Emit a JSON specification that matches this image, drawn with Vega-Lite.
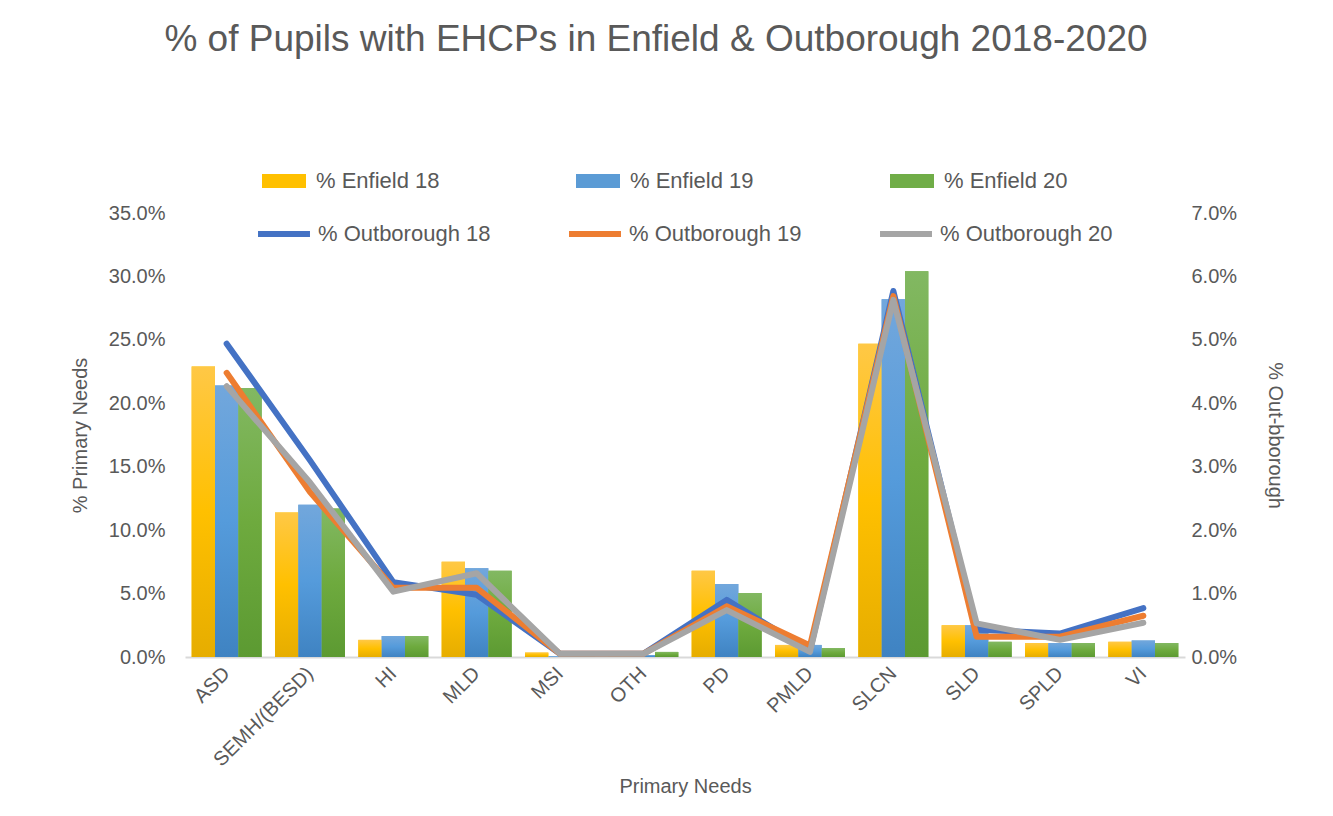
{
  "$schema": "https://vega.github.io/schema/vega-lite/v6.json",
  "width": 1000,
  "height": 444,
  "autosize": {"type": "none"},
  "padding": {"left": 185, "top": 213, "right": 148, "bottom": 159},
  "background": "white",
  "config": {
    "font": "Liberation Sans",
    "view": {"stroke": null},
    "axis": {"labelColor": "#595959", "titleColor": "#595959", "labelFont": "Liberation Sans", "titleFont": "Liberation Sans", "titleFontWeight": "normal", "grid": false, "ticks": false, "domain": false}
  },
  "title": {
    "text": "% of Pupils with EHCPs in Enfield & Outborough 2018-2020",
    "fontSize": 37,
    "fontWeight": "normal",
    "color": "#595959",
    "font": "Liberation Sans",
    "anchor": "middle",
    "dx": -29,
    "offset": 100
  },
  "datasets": {
    "bars": [
      {"need": "ASD", "series": "% Enfield 18", "pct": 0.229},
      {"need": "ASD", "series": "% Enfield 19", "pct": 0.214},
      {"need": "ASD", "series": "% Enfield 20", "pct": 0.212},
      {"need": "SEMH/(BESD)", "series": "% Enfield 18", "pct": 0.114},
      {"need": "SEMH/(BESD)", "series": "% Enfield 19", "pct": 0.120},
      {"need": "SEMH/(BESD)", "series": "% Enfield 20", "pct": 0.117},
      {"need": "HI", "series": "% Enfield 18", "pct": 0.0135},
      {"need": "HI", "series": "% Enfield 19", "pct": 0.0165},
      {"need": "HI", "series": "% Enfield 20", "pct": 0.0165},
      {"need": "MLD", "series": "% Enfield 18", "pct": 0.075},
      {"need": "MLD", "series": "% Enfield 19", "pct": 0.070},
      {"need": "MLD", "series": "% Enfield 20", "pct": 0.068},
      {"need": "MSI", "series": "% Enfield 18", "pct": 0.0035},
      {"need": "MSI", "series": "% Enfield 19", "pct": 0.0005},
      {"need": "MSI", "series": "% Enfield 20", "pct": 0.0005},
      {"need": "OTH", "series": "% Enfield 18", "pct": 0.001},
      {"need": "OTH", "series": "% Enfield 19", "pct": 0.0015},
      {"need": "OTH", "series": "% Enfield 20", "pct": 0.004},
      {"need": "PD", "series": "% Enfield 18", "pct": 0.068},
      {"need": "PD", "series": "% Enfield 19", "pct": 0.0575},
      {"need": "PD", "series": "% Enfield 20", "pct": 0.0505},
      {"need": "PMLD", "series": "% Enfield 18", "pct": 0.0095},
      {"need": "PMLD", "series": "% Enfield 19", "pct": 0.0095},
      {"need": "PMLD", "series": "% Enfield 20", "pct": 0.007},
      {"need": "SLCN", "series": "% Enfield 18", "pct": 0.247},
      {"need": "SLCN", "series": "% Enfield 19", "pct": 0.282},
      {"need": "SLCN", "series": "% Enfield 20", "pct": 0.304},
      {"need": "SLD", "series": "% Enfield 18", "pct": 0.025},
      {"need": "SLD", "series": "% Enfield 19", "pct": 0.025},
      {"need": "SLD", "series": "% Enfield 20", "pct": 0.012},
      {"need": "SPLD", "series": "% Enfield 18", "pct": 0.011},
      {"need": "SPLD", "series": "% Enfield 19", "pct": 0.011},
      {"need": "SPLD", "series": "% Enfield 20", "pct": 0.011},
      {"need": "VI", "series": "% Enfield 18", "pct": 0.012},
      {"need": "VI", "series": "% Enfield 19", "pct": 0.013},
      {"need": "VI", "series": "% Enfield 20", "pct": 0.011}
    ],
    "lines": [
      {"need": "ASD", "series": "% Outborough 18", "pct": 0.0494},
      {"need": "SEMH/(BESD)", "series": "% Outborough 18", "pct": 0.031},
      {"need": "HI", "series": "% Outborough 18", "pct": 0.0118},
      {"need": "MLD", "series": "% Outborough 18", "pct": 0.0098},
      {"need": "MSI", "series": "% Outborough 18", "pct": 0.0005},
      {"need": "OTH", "series": "% Outborough 18", "pct": 0.0005},
      {"need": "PD", "series": "% Outborough 18", "pct": 0.009},
      {"need": "PMLD", "series": "% Outborough 18", "pct": 0.001},
      {"need": "SLCN", "series": "% Outborough 18", "pct": 0.0577},
      {"need": "SLD", "series": "% Outborough 18", "pct": 0.0043},
      {"need": "SPLD", "series": "% Outborough 18", "pct": 0.0037},
      {"need": "VI", "series": "% Outborough 18", "pct": 0.0077},
      {"need": "ASD", "series": "% Outborough 19", "pct": 0.0448},
      {"need": "SEMH/(BESD)", "series": "% Outborough 19", "pct": 0.026},
      {"need": "HI", "series": "% Outborough 19", "pct": 0.0109},
      {"need": "MLD", "series": "% Outborough 19", "pct": 0.0109},
      {"need": "MSI", "series": "% Outborough 19", "pct": 0.0005},
      {"need": "OTH", "series": "% Outborough 19", "pct": 0.0005},
      {"need": "PD", "series": "% Outborough 19", "pct": 0.008},
      {"need": "PMLD", "series": "% Outborough 19", "pct": 0.0018},
      {"need": "SLCN", "series": "% Outborough 19", "pct": 0.0569},
      {"need": "SLD", "series": "% Outborough 19", "pct": 0.0032},
      {"need": "SPLD", "series": "% Outborough 19", "pct": 0.0032},
      {"need": "VI", "series": "% Outborough 19", "pct": 0.0065},
      {"need": "ASD", "series": "% Outborough 20", "pct": 0.0427},
      {"need": "SEMH/(BESD)", "series": "% Outborough 20", "pct": 0.0275},
      {"need": "HI", "series": "% Outborough 20", "pct": 0.0103},
      {"need": "MLD", "series": "% Outborough 20", "pct": 0.0132},
      {"need": "MSI", "series": "% Outborough 20", "pct": 0.0005},
      {"need": "OTH", "series": "% Outborough 20", "pct": 0.0005},
      {"need": "PD", "series": "% Outborough 20", "pct": 0.0074},
      {"need": "PMLD", "series": "% Outborough 20", "pct": 0.0008},
      {"need": "SLCN", "series": "% Outborough 20", "pct": 0.0563},
      {"need": "SLD", "series": "% Outborough 20", "pct": 0.0053},
      {"need": "SPLD", "series": "% Outborough 20", "pct": 0.0027},
      {"need": "VI", "series": "% Outborough 20", "pct": 0.0054}
    ]
  },
  "encoding": {
    "x": {
      "field": "need",
      "type": "nominal",
      "sort": ["ASD", "SEMH/(BESD)", "HI", "MLD", "MSI", "OTH", "PD", "PMLD", "SLCN", "SLD", "SPLD", "VI"],
      "scale": {"paddingInner": 0.16, "paddingOuter": 0.08},
      "axis": {
        "title": "Primary Needs",
        "titleFontSize": 20,
        "titlePadding": 7,
        "labelFontSize": 20,
        "labelAngle": -45,
        "labelPadding": 6,
        "labelOffset": -7,
        "domain": true,
        "domainColor": "#d9d9d9",
        "domainWidth": 2
      }
    }
  },
  "layer": [
    {
      "data": {"name": "bars"},
      "encoding": {
        "xOffset": {"field": "series", "type": "nominal", "scale": {"domain": ["% Enfield 18", "% Enfield 19", "% Enfield 20"], "paddingInner": 0, "paddingOuter": 0}},
        "y": {
          "field": "pct",
          "type": "quantitative",
          "scale": {"domain": [0, 0.35]},
          "axis": {
            "title": "% Primary Needs",
            "titleFontSize": 20,
            "labelFontSize": 20,
            "format": ".1%",
            "values": [0, 0.05, 0.1, 0.15, 0.2, 0.25, 0.3, 0.35],
            "labelPadding": 20,
            "titlePadding": 18
          }
        }
      },
      "layer": [
        {
          "mark": {"type": "bar"},
          "encoding": {
            "color": {
              "field": "series",
              "type": "nominal",
              "scale": {"domain": ["% Enfield 18", "% Enfield 19", "% Enfield 20"], "range": ["#FFC000", "#5B9BD5", "#70AD47"]},
              "legend": {
                "title": null,
                "orient": "none",
                "legendX": 77,
                "legendY": -54,
                "direction": "horizontal",
                "columns": 3,
                "columnPadding": 136,
                "symbolType": "M-1,-0.32H1V0.32H-1Z",
                "symbolSize": 1936,
                "symbolStrokeWidth": 0,
                "labelFontSize": 22,
                "labelColor": "#595959",
                "labelOffset": 10,
                "labelLimit": 400,
                "labelFont": "Liberation Sans"
              }
            }
          }
        },
        {
          "transform": [{"filter": "datum.series == '% Enfield 18'"}],
          "mark": {"type": "bar", "color": {"gradient": "linear", "x1": 0, "y1": 0, "x2": 0, "y2": 1, "stops": [{"offset": 0, "color": "#FFC846"}, {"offset": 0.5, "color": "#FFC000"}, {"offset": 1, "color": "#E6AD00"}]}}
        },
        {
          "transform": [{"filter": "datum.series == '% Enfield 19'"}],
          "mark": {"type": "bar", "color": {"gradient": "linear", "x1": 0, "y1": 0, "x2": 0, "y2": 1, "stops": [{"offset": 0, "color": "#72A7DC"}, {"offset": 0.5, "color": "#559BDB"}, {"offset": 1, "color": "#3F83C2"}]}}
        },
        {
          "transform": [{"filter": "datum.series == '% Enfield 20'"}],
          "mark": {"type": "bar", "color": {"gradient": "linear", "x1": 0, "y1": 0, "x2": 0, "y2": 1, "stops": [{"offset": 0, "color": "#82B862"}, {"offset": 0.5, "color": "#6EAA3E"}, {"offset": 1, "color": "#5C9A32"}]}}
        }
      ]
    },
    {
      "data": {"name": "lines"},
      "mark": {"type": "line", "strokeWidth": 6, "strokeCap": "round", "strokeJoin": "round"},
      "encoding": {
        "y": {
          "field": "pct",
          "type": "quantitative",
          "scale": {"domain": [0, 0.07]},
          "axis": {
            "orient": "right",
            "title": "% Out-bborough",
            "titleFontSize": 20,
            "labelFontSize": 20,
            "format": ".1%",
            "values": [0, 0.01, 0.02, 0.03, 0.04, 0.05, 0.06, 0.07],
            "labelPadding": 6,
            "titlePadding": 28
          }
        },
        "stroke": {
          "field": "series",
          "type": "nominal",
          "scale": {"domain": ["% Outborough 18", "% Outborough 19", "% Outborough 20"], "range": ["#4472C4", "#ED7D31", "#A5A5A5"]},
          "legend": {
            "title": null,
            "orient": "none",
            "legendX": 70,
            "legendY": -8,
            "direction": "horizontal",
            "columns": 3,
            "columnPadding": 66,
            "symbolType": "stroke",
            "symbolSize": 2700,
            "symbolStrokeWidth": 6,
            "labelFontSize": 22,
            "labelColor": "#595959",
            "labelOffset": 5,
            "labelLimit": 400,
            "labelFont": "Liberation Sans"
          }
        }
      }
    }
  ],
  "resolve": {"scale": {"y": "independent"}}
}
